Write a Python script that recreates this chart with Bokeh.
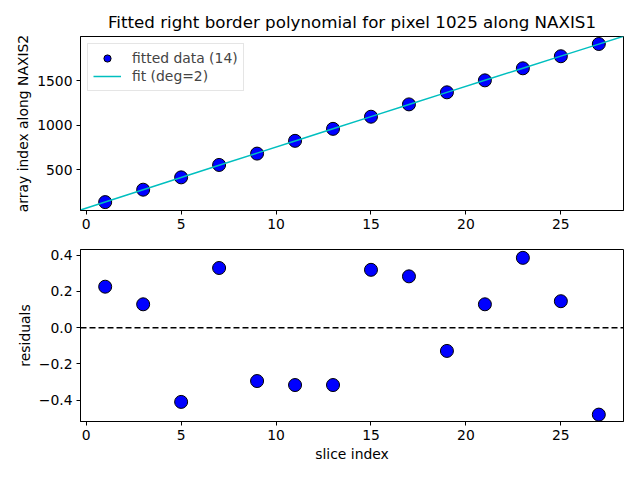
import numpy as np
from bokeh.plotting import figure
from bokeh.layouts import column
from bokeh.models import Span, CustomJSTickFormatter, FixedTicker, Range1d
from bokeh.embed import file_html
from bokeh.resources import INLINE

# data
slice_idx = [1, 3, 5, 7, 9, 11, 13, 15, 17, 19, 21, 23, 25, 27]
array_idx = [140, 279, 417, 556, 683, 826, 960, 1096, 1234, 1369, 1503, 1638, 1773, 1910]
residuals = [0.226, 0.129, -0.409, 0.329, -0.294, -0.316, -0.316, 0.319, 0.283,
             -0.128, 0.129, 0.385, 0.146, -0.479]
x_ticks = [0, 5, 10, 15, 20, 25]
top_y_ticks = [500, 1000, 1500]
res_y_ticks = [-0.4, -0.2, 0.0, 0.2, 0.4]
x_lim = (-0.3, 28.3)
top_y_lim = (46, 1994)
res_y_lim = (-0.517, 0.431)

# degree-2 fit of the data, evaluated over the axis span
coef = np.polyfit(slice_idx, array_idx, 2)
fit_x = np.array([x_lim[0]] + slice_idx + [x_lim[1]], dtype=float)
fit_y = np.polyval(coef, fit_x)

FONT = "DejaVu Sans"
TICK_PX = "13.9px"


def style(p):
    p.background_fill_color = "white"
    p.border_fill_color = "white"
    p.outline_line_color = "black"
    p.outline_line_width = 1
    p.xgrid.visible = False
    p.ygrid.visible = False
    for ax in (p.xaxis[0], p.yaxis[0]):
        ax.axis_line_color = "black"
        ax.major_tick_line_color = "black"
        ax.major_tick_in = 0
        ax.major_tick_out = 4
        ax.minor_tick_line_color = None
        ax.major_label_text_font = FONT
        ax.major_label_text_font_size = TICK_PX
        ax.major_label_text_color = "black"
        ax.major_label_standoff = 4
        ax.axis_label_text_font = FONT
        ax.axis_label_text_font_size = TICK_PX
        ax.axis_label_text_font_style = "normal"
        ax.axis_label_text_color = "black"


top = figure(width=624, height=240, output_backend="svg", toolbar_location=None,
             x_range=Range1d(*x_lim), y_range=Range1d(*top_y_lim),
             min_border_left=80, min_border_right=1, min_border_top=36,
             min_border_bottom=30,
             title="Fitted right border polynomial for pixel 1025 along NAXIS1")
style(top)
top.title.text_font = FONT
top.title.text_font_size = "16.7px"
top.title.text_font_style = "normal"
top.title.text_color = "black"
top.title.align = "center"
top.title.offset = 0
top.xaxis.ticker = FixedTicker(ticks=x_ticks)
top.yaxis.ticker = FixedTicker(ticks=top_y_ticks)
top.yaxis.axis_label = "array index along NAXIS2"
top.yaxis.axis_label_standoff = 3

top.scatter(slice_idx, array_idx, size=13, fill_color="blue", line_color="black",
            line_width=1, legend_label="fitted data (14)")
top.line(fit_x, fit_y, line_color="#00bfbf", line_width=1.5, legend_label="fit (deg=2)")

lg = top.legend[0]
lg.location = "top_left"
lg.margin = 7
lg.padding = 5
lg.spacing = 0
lg.glyph_width = 28
lg.glyph_height = 18
lg.label_height = 18
lg.label_standoff = 11
lg.label_text_font = FONT
lg.label_text_font_size = TICK_PX
lg.border_line_color = "#cccccc"
lg.border_line_width = 1
lg.background_fill_alpha = 0.8

bot = figure(width=624, height=224, output_backend="svg", toolbar_location=None,
             x_range=Range1d(*x_lim), y_range=Range1d(*res_y_lim),
             min_border_left=80, min_border_right=1, min_border_top=9,
             min_border_bottom=42)
style(bot)
bot.xaxis.ticker = FixedTicker(ticks=x_ticks)
bot.yaxis.ticker = FixedTicker(ticks=res_y_ticks)
bot.yaxis.formatter = CustomJSTickFormatter(
    code="return tick.toFixed(1).replace('-', '\u2212');")
bot.yaxis.axis_label = "residuals"
bot.yaxis.axis_label_standoff = 3
bot.xaxis.axis_label = "slice index"
bot.xaxis.axis_label_standoff = 3

bot.add_layout(Span(location=0, dimension="width", line_color="black",
                    line_width=1.5, line_dash="6 3"))
bot.scatter(slice_idx, residuals, size=13, fill_color="blue", line_color="black",
            line_width=1)

layout = column(top, bot, spacing=0)
open("out.html", "w").write(file_html(layout, INLINE))
